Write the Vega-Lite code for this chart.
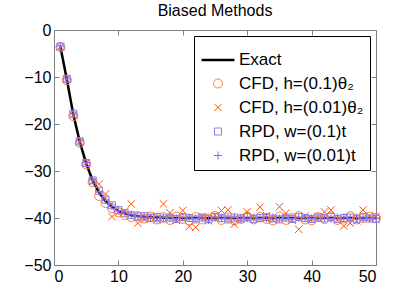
{
  "$schema": "https://vega.github.io/schema/vega-lite/v6.json",
  "width": 322,
  "height": 235,
  "autosize": {"type": "none"},
  "padding": {"left": 54, "top": 30, "right": 39, "bottom": 34},
  "background": "white",
  "title": {"text": "Biased Methods", "fontSize": 16, "fontWeight": "normal", "font": "Liberation Sans", "color": "black", "offset": 3, "frame": "group"},
  "config": {
    "view": {"stroke": "#808080", "strokeWidth": 1},
    "axis": {"labelFont": "Liberation Sans", "labelFontSize": 16, "labelColor": "black", "grid": false, "domain": false, "tickColor": "#808080", "tickSize": -5, "labelPadding": 8, "title": null},
    "legend": {"labelFont": "Liberation Sans", "labelFontSize": 17, "labelColor": "black"}
  },
  "data": {"values": [
    {"t":1,"e":-3.6,"c1":-3.7,"c2":-3.6,"r1":-3.5,"r2":-3.4},
    {"t":2,"e":-10.6,"c1":-10.7,"c2":-10.5,"r1":-10.4,"r2":-10.4},
    {"t":3,"e":-18.0,"c1":-18.3,"c2":-18.1,"r1":-17.8,"r2":-17.9},
    {"t":4,"e":-23.8,"c1":-24.0,"c2":-23.8,"r1":-23.7,"r2":-23.6},
    {"t":5,"e":-28.4,"c1":-28.6,"c2":-28.3,"r1":-28.3,"r2":-28.2},
    {"t":6,"e":-32.0,"c1":-32.4,"c2":-32.2,"r1":-32.0,"r2":-31.9},
    {"t":7,"e":-34.6,"c1":-35.3,"c2":-32.8,"r1":-34.2,"r2":-34.4},
    {"t":8,"e":-36.4,"c1":-36.8,"c2":-34.9,"r1":-36.1,"r2":-36.2},
    {"t":9,"e":-37.6,"c1":-37.9,"c2":-39.7,"r1":-37.3,"r2":-37.5},
    {"t":10,"e":-38.5,"c1":-38.8,"c2":-38.9,"r1":-38.3,"r2":-38.4},
    {"t":11,"e":-39.0,"c1":-39.4,"c2":-38.6,"r1":-39.0,"r2":-39.0},
    {"t":12,"e":-39.4,"c1":-39.8,"c2":-37.0,"r1":-39.4,"r2":-39.3},
    {"t":13,"e":-39.6,"c1":-39.6,"c2":-41.1,"r1":-39.7,"r2":-39.6},
    {"t":14,"e":-39.75,"c1":-40.1,"c2":-40.3,"r1":-39.6,"r2":-39.8},
    {"t":15,"e":-39.85,"c1":-39.7,"c2":-39.6,"r1":-40.0,"r2":-39.9},
    {"t":16,"e":-39.9,"c1":-40.3,"c2":-40.4,"r1":-39.8,"r2":-40.1},
    {"t":17,"e":-39.95,"c1":-39.8,"c2":-37.0,"r1":-40.1,"r2":-39.9},
    {"t":18,"e":-40.0,"c1":-40.4,"c2":-38.9,"r1":-39.9,"r2":-40.0},
    {"t":19,"e":-40.0,"c1":-39.7,"c2":-40.5,"r1":-40.2,"r2":-40.1},
    {"t":20,"e":-40.0,"c1":-40.2,"c2":-38.4,"r1":-39.8,"r2":-39.9},
    {"t":21,"e":-40.0,"c1":-40.5,"c2":-41.8,"r1":-40.0,"r2":-40.0},
    {"t":22,"e":-40.0,"c1":-39.8,"c2":-42.0,"r1":-40.3,"r2":-40.1},
    {"t":23,"e":-40.0,"c1":-40.3,"c2":-39.7,"r1":-39.9,"r2":-40.0},
    {"t":24,"e":-40.0,"c1":-40.1,"c2":-40.6,"r1":-40.2,"r2":-40.4},
    {"t":25,"e":-40.0,"c1":-39.6,"c2":-39.5,"r1":-39.8,"r2":-39.9},
    {"t":26,"e":-40.0,"c1":-40.4,"c2":-38.4,"r1":-40.0,"r2":-40.1},
    {"t":27,"e":-40.0,"c1":-39.9,"c2":-38.3,"r1":-40.3,"r2":-40.0},
    {"t":28,"e":-40.0,"c1":-40.5,"c2":-41.3,"r1":-39.9,"r2":-39.9},
    {"t":29,"e":-40.0,"c1":-40.2,"c2":-40.3,"r1":-40.1,"r2":-40.1},
    {"t":30,"e":-40.0,"c1":-39.7,"c2":-38.7,"r1":-39.8,"r2":-40.0},
    {"t":31,"e":-40.0,"c1":-40.3,"c2":-40.2,"r1":-40.2,"r2":-39.9},
    {"t":32,"e":-40.0,"c1":-39.8,"c2":-37.7,"r1":-40.0,"r2":-40.1},
    {"t":33,"e":-40.0,"c1":-40.2,"c2":-39.5,"r1":-39.8,"r2":-40.0},
    {"t":34,"e":-40.0,"c1":-40.5,"c2":-40.4,"r1":-40.1,"r2":-39.9},
    {"t":35,"e":-40.0,"c1":-39.7,"c2":-37.6,"r1":-40.3,"r2":-40.1},
    {"t":36,"e":-40.0,"c1":-40.4,"c2":-39.0,"r1":-39.9,"r2":-40.0},
    {"t":37,"e":-40.0,"c1":-40.0,"c2":-40.5,"r1":-40.2,"r2":-40.1},
    {"t":38,"e":-40.0,"c1":-39.6,"c2":-42.4,"r1":-39.8,"r2":-39.9},
    {"t":39,"e":-40.0,"c1":-40.3,"c2":-39.6,"r1":-40.0,"r2":-40.0},
    {"t":40,"e":-40.0,"c1":-40.5,"c2":-40.3,"r1":-40.2,"r2":-40.1},
    {"t":41,"e":-40.0,"c1":-39.8,"c2":-39.7,"r1":-39.9,"r2":-39.9},
    {"t":42,"e":-40.0,"c1":-40.2,"c2":-38.7,"r1":-40.1,"r2":-40.0},
    {"t":43,"e":-40.0,"c1":-39.7,"c2":-38.3,"r1":-39.8,"r2":-40.1},
    {"t":44,"e":-40.0,"c1":-40.4,"c2":-40.4,"r1":-40.2,"r2":-39.9},
    {"t":45,"e":-40.0,"c1":-40.1,"c2":-41.7,"r1":-40.0,"r2":-40.0},
    {"t":46,"e":-40.0,"c1":-39.6,"c2":-41.1,"r1":-39.9,"r2":-40.1},
    {"t":47,"e":-40.0,"c1":-40.3,"c2":-40.6,"r1":-40.2,"r2":-39.9},
    {"t":48,"e":-40.0,"c1":-40.0,"c2":-38.3,"r1":-39.8,"r2":-40.0},
    {"t":49,"e":-40.0,"c1":-39.7,"c2":-39.6,"r1":-40.1,"r2":-40.1},
    {"t":50,"e":-40.0,"c1":-40.0,"c2":-39.7,"r1":-40.2,"r2":-40.0}
  ]},
  "layer": [
    {
      "mark": {"type": "line", "color": "black", "strokeWidth": 2.5},
      "encoding": {
        "x": {"field": "t", "type": "quantitative", "scale": {"domain": [0, 50], "nice": false}, "axis": {"orient": "bottom", "values": [0, 10, 20, 30, 40, 50]}},
        "y": {"field": "e", "type": "quantitative", "scale": {"domain": [-50, 0], "nice": false}, "axis": {"orient": "left", "values": [-50, -40, -30, -20, -10, 0]}}
      }
    },
    {
      "transform": [{"fold": ["c1", "c2", "r1", "r2"], "as": ["s", "v"]}],
      "mark": {"type": "point", "filled": false, "opacity": 1},
      "encoding": {
        "x": {"field": "t", "type": "quantitative", "axis": {"orient": "top", "values": [0, 10, 20, 30, 40, 50], "labels": false}},
        "y": {"field": "v", "type": "quantitative", "axis": {"orient": "right", "values": [-50, -40, -30, -20, -10, 0], "labels": false}},
        "color": {"field": "s", "type": "nominal", "scale": {"domain": ["e", "c1", "c2", "r1", "r2"], "range": ["black", "#ff7a3c", "#ff5000", "#9080f0", "#7a68f5"]},
          "legend": {"orient": "top-right", "offset": 6, "title": null, "strokeColor": "black", "fillColor": "white", "padding": 6, "rowPadding": 6, "labelOffset": 3, "labelExpr": "{'e':'Exact','c1':'CFD, h=(0.1)θ₂','c2':'CFD, h=(0.01)θ₂','r1':'RPD, w=(0.1)t','r2':'RPD, w=(0.01)t'}[datum.label]"}},
        "shape": {"field": "s", "type": "nominal", "scale": {"domain": ["e", "c1", "c2", "r1", "r2"], "range": ["stroke", "circle", "M-1,-1L1,1M-1,1L1,-1", "square", "M-1,0L1,0M0,-1L0,1"]}},
        "size": {"field": "s", "type": "nominal", "scale": {"type": "ordinal", "domain": ["e", "c1", "c2", "r1", "r2"], "range": [1089, 81, 55, 49, 64]}},
        "strokeWidth": {"field": "s", "type": "nominal", "scale": {"type": "ordinal", "domain": ["e", "c1", "c2", "r1", "r2"], "range": [2.5, 1, 1, 1, 1]}}
      }
    }
  ]
}
